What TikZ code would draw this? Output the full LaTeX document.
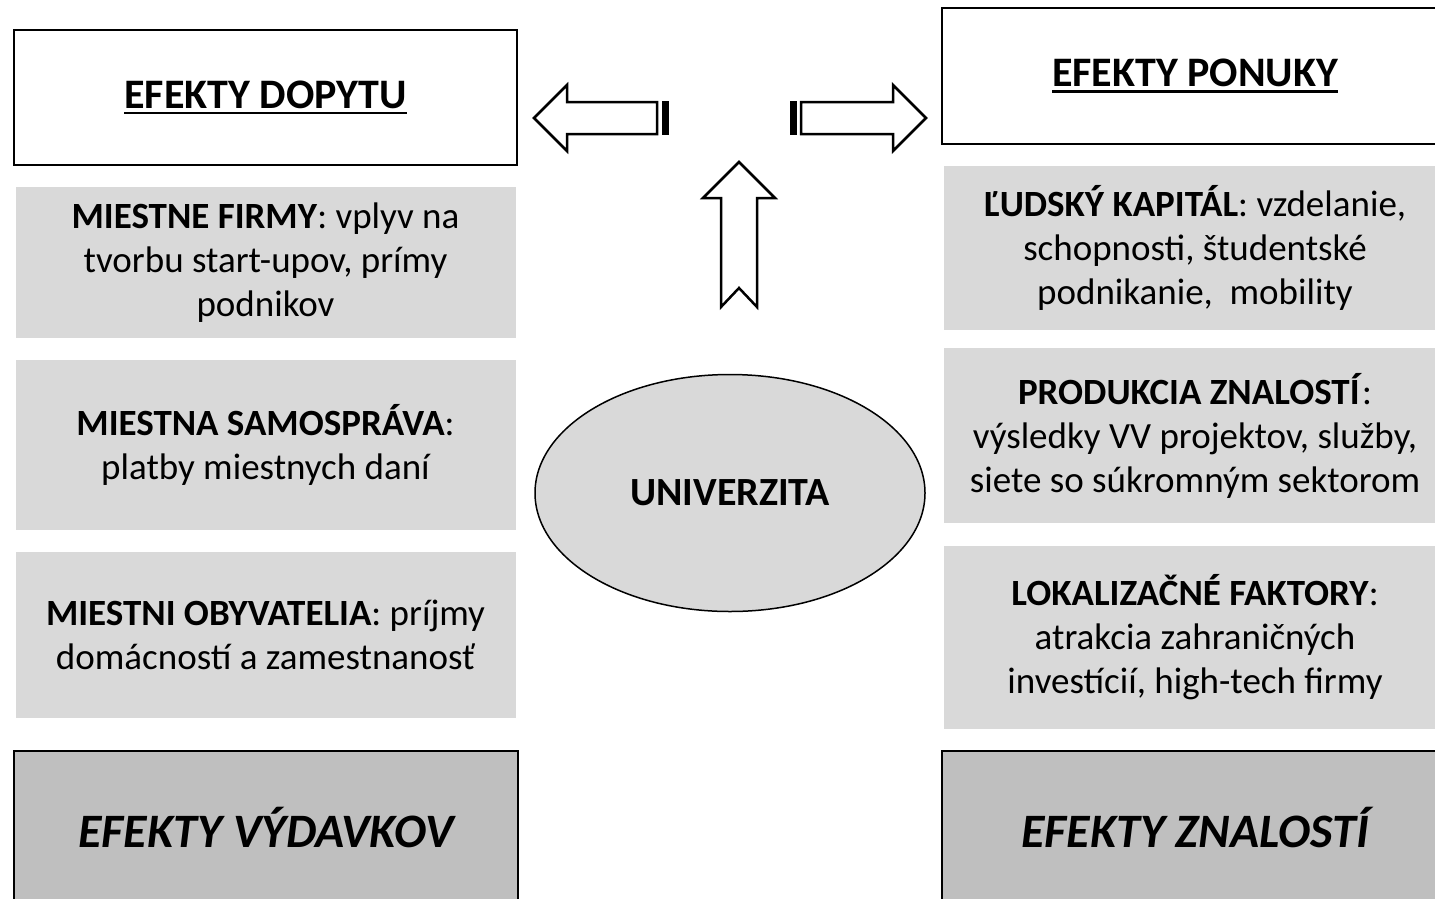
\documentclass[tikz,border=0pt]{standalone}
\usepackage{fontspec}
\setmainfont{Carlito}
\usetikzlibrary{shapes.geometric}
\definecolor{boxgray}{HTML}{D9D9D9}
\definecolor{darkgray}{HTML}{BFBFBF}
\newcommand{\thickul}[1]{\leavevmode\vtop{\hbox{#1}\kern3pt\hrule height 2.4pt}}
\tikzset{
    headbox/.style={draw, line width=2pt, fill=white, minimum width=#1, minimum height=135pt,
        font=\fontsize{42}{50}\selectfont\bfseries},
    infobox/.style={fill=boxgray, minimum width=500pt, align=center,
        font=\fontsize{37}{44}\selectfont},
    effectbox/.style={draw, line width=2pt, fill=darkgray, minimum width=504pt, minimum height=152pt,
        font=\fontsize{48}{52}\selectfont\bfseries\itshape},
    blockarrow/.style={draw, line width=2.5pt, fill=white, line join=miter}
}
\begin{document}
\begin{tikzpicture}[x=1pt, y=-1pt]
    \useasboundingbox (0,0) rectangle (1435,898);
    % left side: demand
    \node[headbox=503pt] (dopyt) at (265.5,97.5) {\thickul{EFEKTY DOPYTU}};
    \node[infobox, minimum height=151pt] (firmy) at (265.5,262.5)
        {\textbf{MIESTNE FIRMY}: vplyv na\\ tvorbu start-upov, prímy\\ podnikov};
    \node[infobox, minimum height=170pt] (sprava) at (265.5,445)
        {\textbf{MIESTNA SAMOSPRÁVA}:\\ platby miestnych daní};
    \node[infobox, minimum height=166pt] (obyv) at (265.5,635)
        {\textbf{MIESTNI OBYVATELIA}: príjmy\\ domácností a zamestnanosť};
    \node[effectbox] (vydavky) at (266,827) {EFEKTY VÝDAVKOV};
    % right side: supply
    \node[headbox=506pt, minimum height=136pt] (ponuka) at (1195,76) {\thickul{EFEKTY PONUKY}};
    \node[infobox, minimum width=502pt, minimum height=164pt] (kapital) at (1195,248)
        {\textbf{ĽUDSKÝ KAPITÁL}: vzdelanie,\\ schopnosti, študentské\\ podnikanie,~ mobility};
    \node[infobox, minimum width=502pt, minimum height=175pt] (znalosti) at (1195,435.5)
        {\textbf{PRODUKCIA ZNALOSTÍ}:\\ výsledky VV projektov, služby,\\ siete so súkromným sektorom};
    \node[infobox, minimum width=502pt, minimum height=183pt] (faktory) at (1195,637.5)
        {\textbf{LOKALIZAČNÉ FAKTORY}:\\ atrakcia zahraničných\\ investícií, high-tech firmy};
    \node[effectbox, minimum width=506pt] (znal) at (1195,827) {EFEKTY ZNALOSTÍ};
    % university in the middle
    \node[ellipse, draw, line width=1.5pt, fill=boxgray, minimum width=390pt, minimum height=237pt,
        font=\fontsize{40}{44}\selectfont\bfseries] (univ) at (730,493) {UNIVERZITA};
    % block arrows
    \draw[blockarrow] (657,102) -- (567,102) -- (567,85) -- (534,118) -- (567,151)
        -- (567,134) -- (657,134) -- cycle;
    \fill (662,101) rectangle (669,135);
    \draw[blockarrow] (801,102) -- (893,102) -- (893,85) -- (926,118) -- (893,151)
        -- (893,134) -- (801,134) -- cycle;
    \fill (790,101) rectangle (797,135);
    \draw[blockarrow] (721,307) -- (721,198) -- (703,198) -- (739,162) -- (775,198)
        -- (757,198) -- (757,307) -- (739,288) -- cycle;
\end{tikzpicture}
\end{document}
